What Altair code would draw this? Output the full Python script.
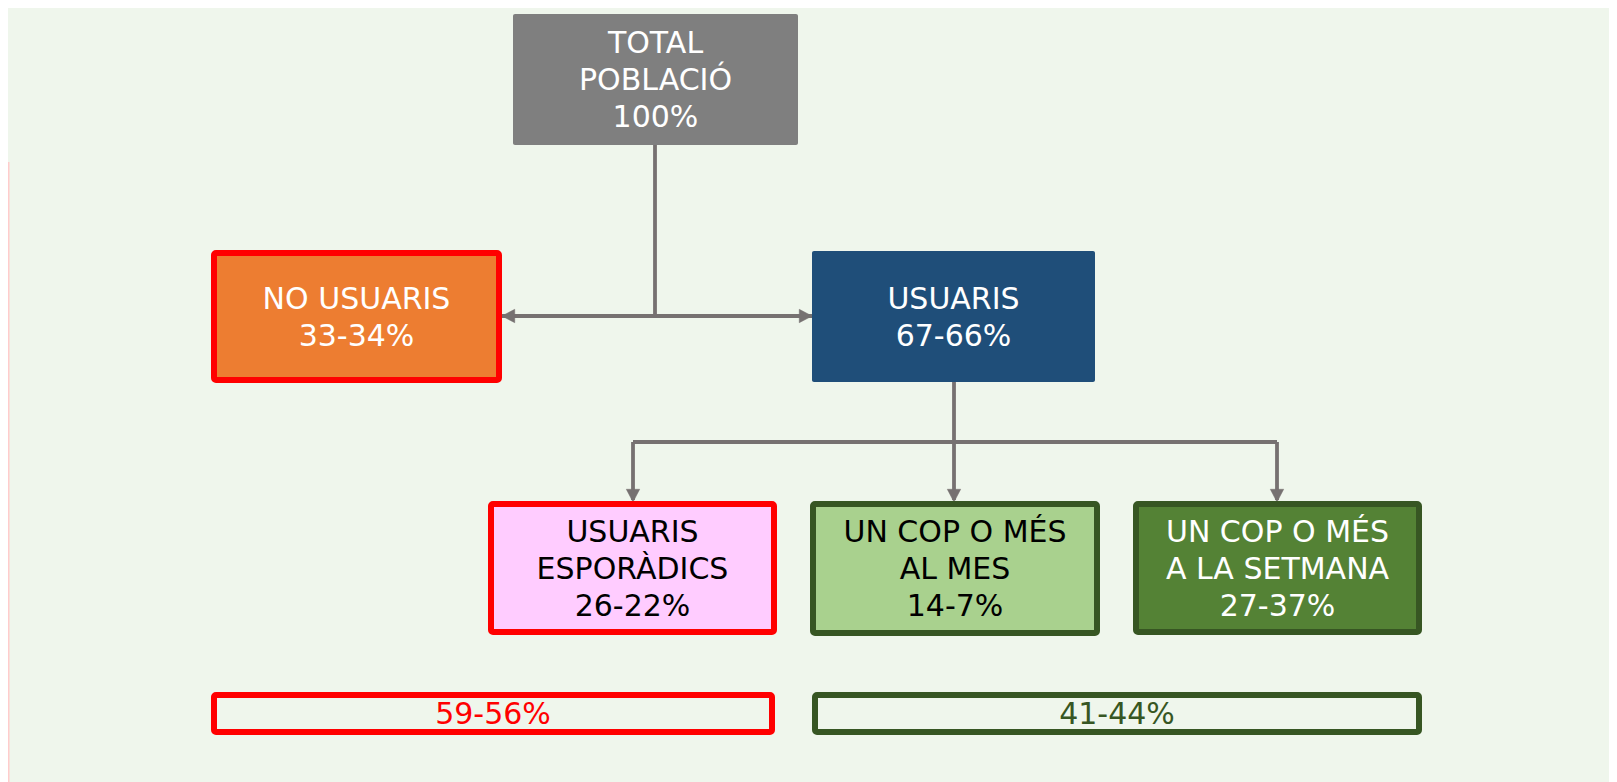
import altair as alt
import pandas as pd

# ---- content ----
node_names = [["TOTAL", "POBLACIÓ"], ["NO USUARIS"], ["USUARIS"], ["USUARIS", "ESPORÀDICS"],
              ["UN COP O MÉS", "AL MES"], ["UN COP O MÉS", "A LA SETMANA"]]
node_shares = ["100%", "33-34%", "67-66%", "26-22%", "14-7%", "27-37%"]
summary_shares = ["59-56%", "41-44%"]

# ---- layout (page pixel coordinates) ----
node_x0 = [513, 211, 812, 488, 810, 1133]
node_x1 = [798, 502, 1095, 777, 1100, 1422]
node_y0 = [14, 250, 251, 501, 501, 501]
node_y1 = [145, 383, 382, 635, 636, 635]
node_sw = [0, 6, 0, 6, 6, 6]

sum_x0 = [211, 812]
sum_x1 = [775, 1422]
sum_y0 = [692, 692]
sum_y1 = [735, 735]
sum_sw = [6, 6]

edge_x = [655, 502, 954, 633, 633, 954, 1277]
edge_x2 = [655, 812, 954, 1277, 633, 954, 1277]
edge_y = [145, 316, 382, 442, 442, 442, 442]
edge_y2 = [316, 316, 442, 442, 500, 500, 500]

arrow_x = [502, 812, 633, 954, 1277]
arrow_y = [316, 316, 502, 502, 502]
arrow_dir = ["left", "right", "down", "down", "down"]

# ---- styles ----
node_fill = ["#7F7F7F", "#ED7D31", "#1F4E79", "#FFCCFF", "#A9D18E", "#548235"]
node_stroke = ["#7F7F7F", "#FF0000", "#1F4E79", "#FF0000", "#375623", "#375623"]
node_text = ["#FFFFFF", "#FFFFFF", "#FFFFFF", "#000000", "#000000", "#FFFFFF"]
sum_color = ["#FF0000", "#375623"]
BG = "#EFF6EC"
LINE = "#767171"
FONT = "DejaVu Sans"
FS = 30
LH = 37
CAP = 10.5  # half cap height, to place the baseline

W, H = 1601, 774
X0, Y0 = 8, 8
xs = alt.Scale(domain=[X0, X0 + W], nice=False, zero=False)
ys = alt.Scale(domain=[Y0 + H, Y0], nice=False, zero=False)


def inset(a0, a1, sw):
    return [v + s / 2 for v, s in zip(a0, sw)], [v - s / 2 for v, s in zip(a1, sw)]


nx0, nx1 = inset(node_x0, node_x1, node_sw)
ny0, ny1 = inset(node_y0, node_y1, node_sw)
nodes = pd.DataFrame({
    "x0": nx0, "x1": nx1, "y0": ny0, "y1": ny1,
    "sw": node_sw, "fill": node_fill, "stroke": node_stroke,
})

# one row per text line
rows = []
for i, (name, share) in enumerate(zip(node_names, node_shares)):
    lines = name + [share]
    n = len(lines)
    cx = (node_x0[i] + node_x1[i]) / 2
    cy = (node_y0[i] + node_y1[i]) / 2
    for k, t in enumerate(lines):
        rows.append({"t": t, "x": cx, "y": cy + (k - (n - 1) / 2) * LH + CAP,
                     "c": node_text[i]})
for i, share in enumerate(summary_shares):
    rows.append({"t": share, "x": (sum_x0[i] + sum_x1[i]) / 2,
                 "y": (sum_y0[i] + sum_y1[i]) / 2 + CAP, "c": sum_color[i]})
texts = pd.DataFrame(rows)

sx0, sx1 = inset(sum_x0, sum_x1, sum_sw)
sy0, sy1 = inset(sum_y0, sum_y1, sum_sw)
summ = pd.DataFrame({
    "x0": sx0, "x1": sx1, "y0": sy0, "y1": sy1, "sw": sum_sw, "c": sum_color,
})

edges = pd.DataFrame({"x": edge_x, "x2": edge_x2, "y": edge_y, "y2": edge_y2})
arrows = pd.DataFrame({"x": arrow_x, "y": arrow_y, "d": arrow_dir})

strip = pd.DataFrame({"x0": [8], "x1": [9.5], "y0": [162], "y1": [782]})


def X(f):
    return alt.X(f, type="quantitative", scale=xs, axis=None)


def Y(f):
    return alt.Y(f, type="quantitative", scale=ys, axis=None)


strip_l = alt.Chart(strip).mark_rect(fill="#FFCCCC").encode(
    x=X("x0"), x2="x1", y=Y("y0"), y2="y1")

node_rect = alt.Chart(nodes).mark_rect(cornerRadius=2).encode(
    x=X("x0"), x2="x1", y=Y("y0"), y2="y1",
    fill=alt.Fill("fill:N", scale=None),
    stroke=alt.Stroke("stroke:N", scale=None),
    strokeWidth=alt.StrokeWidth("sw:Q", scale=None),
)

sum_rect = alt.Chart(summ).mark_rect(cornerRadius=2, fillOpacity=0).encode(
    x=X("x0"), x2="x1", y=Y("y0"), y2="y1",
    stroke=alt.Stroke("c:N", scale=None),
    strokeWidth=alt.StrokeWidth("sw:Q", scale=None),
)

edge_l = alt.Chart(edges).mark_rule(color=LINE, strokeWidth=3.8).encode(
    x=X("x"), x2="x2", y=Y("y"), y2="y2")

shapes = {
    "left": "M0,0L1.9,-1L1.9,1Z",
    "right": "M0,0L-1.9,-1L-1.9,1Z",
    "down": "M0,0L-1,-1.9L1,-1.9Z",
}
arrow_layers = [
    alt.Chart(arrows).transform_filter(alt.datum.d == d).mark_point(
        shape=p, filled=True, fill=LINE, stroke=LINE, strokeWidth=0.5,
        opacity=1, size=180).encode(x=X("x"), y=Y("y"))
    for d, p in shapes.items()
]

txt = alt.Chart(texts).mark_text(
    font=FONT, fontSize=FS, align="center", baseline="alphabetic").encode(
    x=X("x"), y=Y("y"), text="t:N",
    color=alt.Color("c:N", scale=None))

chart = alt.layer(
    strip_l, edge_l, *arrow_layers, node_rect, sum_rect, txt
).properties(
    width=W, height=H, padding=0,
    autosize=alt.AutoSizeParams(type="none"),
).configure(background=BG).configure_view(strokeWidth=0)

chart.save("out.html", embed_options={"renderer": "svg", "actions": False})
